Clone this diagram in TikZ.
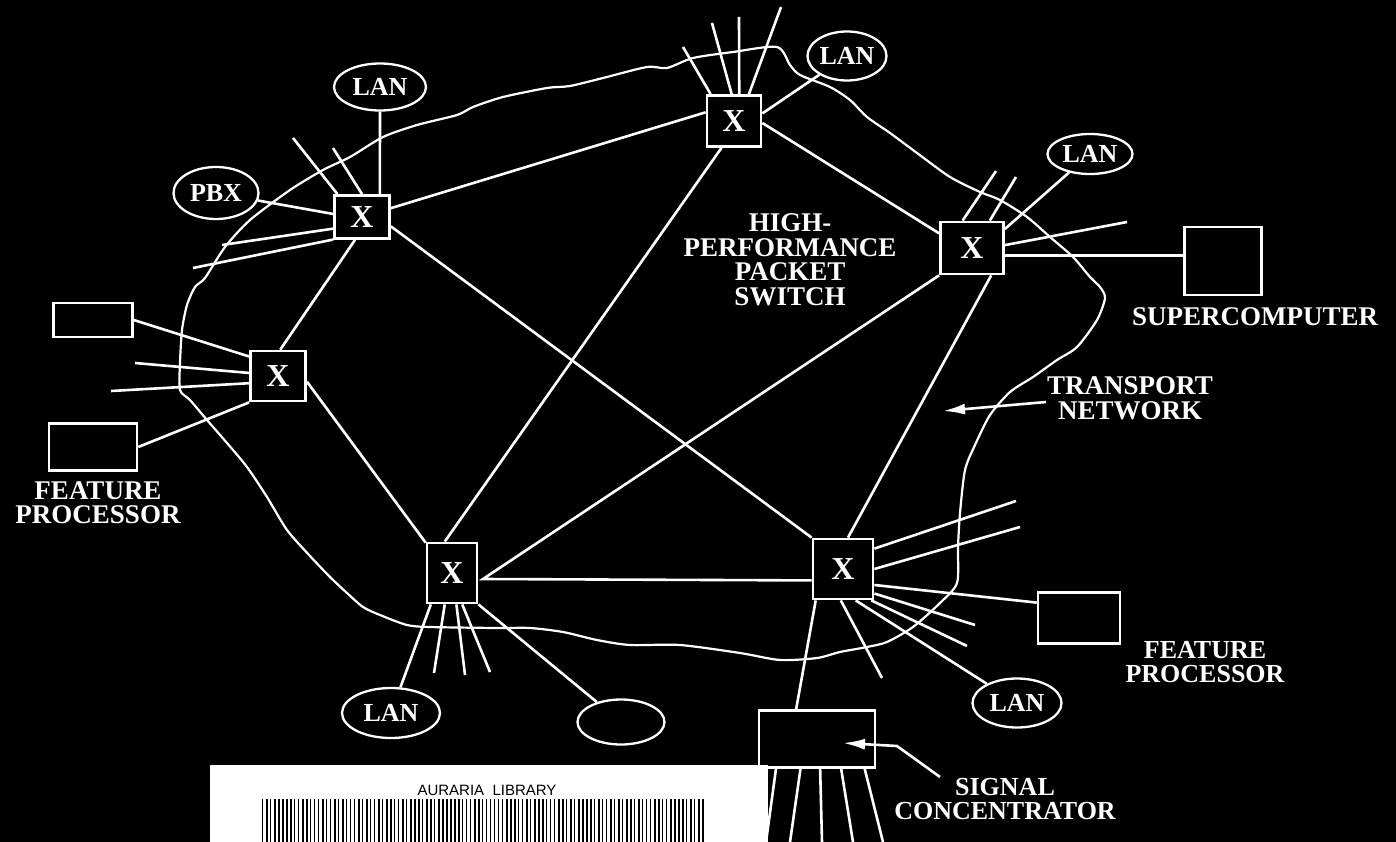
\documentclass[tikz,border=0pt]{standalone}
\usepackage{fontspec}
\setmainfont{Liberation Serif}
\newfontfamily\tagfont{Liberation Sans}
\usetikzlibrary{arrows.meta, shapes.geometric}

\begin{document}
\begin{tikzpicture}[x=1pt, y=-1pt,
  wire/.style={draw=white, line width=2.6pt},
  cloud/.style={draw=white, line width=2.2pt},
  xbox/.style={draw=white, line width=2.8pt, fill=black, text=white, inner sep=0pt,
    font=\fontsize{32}{32}\selectfont\bfseries},
  lan/.style={ellipse, draw=white, line width=2.3pt, fill=black, text=white, inner sep=0pt,
    font=\fontsize{26}{26}\selectfont\bfseries},
  pbox/.style={draw=white, line width=2.6pt, fill=black, inner sep=0pt},
  lbl/.style={text=white, align=center, inner sep=0pt,
    font=\fontsize{27}{24.5}\selectfont\bfseries},
  pointer/.style={wire, -{Latex[length=22pt, width=11pt]}}
]
\useasboundingbox (0,0) rectangle (1396,842);
\fill[black] (0,0) rectangle (1396,842);

% transport network
\draw[cloud] plot[smooth cycle, tension=0.45] coordinates {
  (205,278) (225,247) (250,220) (290,190) (323,170) (350,157) (383,137) (417,125)
  (457,115) (473,107) (503,97) (547,88) (570,86) (603,78) (647,67) (667,68)
  (693,58) (733,52) (777,47) (790,65) (800,75) (830,87) (850,100) (867,117)
  (890,133) (917,153) (950,177) (980,192) (1000,200) (1027,217) (1050,237)
  (1073,257) (1090,277) (1100,287) (1105,298) (1097,320) (1077,347) (1057,360)
  (1033,377) (1010,392) (990,415) (975,445) (965,470) (960,513) (958,547)
  (957,583) (940,603) (913,627) (887,642) (867,647) (840,652) (817,658)
  (780,660) (740,653) (680,645) (630,645) (597,640) (563,632) (530,628)
  (497,628) (430,627) (407,625) (380,615) (363,607) (347,593) (330,577)
  (310,556) (287,530) (267,497) (247,467) (227,443) (207,420) (190,400)
  (180,390) (180,363) (182,330) (187,305) (195,287)};

% packet switches
\node[xbox, minimum width=55pt, minimum height=43pt] (s1) at (362,217) {X};
\node[xbox, minimum width=54pt, minimum height=51pt] (s2) at (734,121) {X};
\node[xbox, minimum width=63pt, minimum height=52pt] (s3) at (972,248) {X};
\node[xbox, minimum width=55pt, minimum height=50pt] (s4) at (278,376) {X};
\node[xbox, minimum width=50pt, minimum height=60pt] (s5) at (452,573) {X};
\node[xbox, minimum width=60pt, minimum height=60pt] (s6) at (843,569) {X};

% attached equipment
\node[lan, minimum width=92pt, minimum height=47pt] (lan1) at (380,87) {LAN};
\node[lan, minimum width=85pt, minimum height=52pt] (pbx) at (216,193) {PBX};
\node[lan, minimum width=79pt, minimum height=49pt] (lan2) at (847,56) {LAN};
\node[lan, minimum width=85pt, minimum height=40pt] (lan3) at (1090,154) {LAN};
\node[lan, minimum width=98pt, minimum height=50pt] (lan4) at (391,713) {LAN};
\node[lan, minimum width=89pt, minimum height=49pt] (lan5) at (1017,703) {LAN};
\node[lan, minimum width=87pt, minimum height=45pt] (oval) at (621,722) {};
\node[pbox, minimum width=79pt, minimum height=34pt] (fp1) at (93,320) {};
\node[pbox, minimum width=88pt, minimum height=47pt] (fp2) at (93,447) {};
\node[pbox, minimum width=77pt, minimum height=68pt] (sc) at (1223,261) {};
\node[pbox, minimum width=82pt, minimum height=51pt] (fp3) at (1079,618) {};
\node[pbox, minimum width=116pt, minimum height=57pt] (conc) at (817,739) {};

% labels
\node[lbl] (hpps) at (790,260) {HIGH-\\PERFORMANCE\\PACKET\\SWITCH};
\node[lbl] (fplbl1) at (98,502.5) {FEATURE\\PROCESSOR};
\node[lbl] (sclbl) at (1255,317) {SUPERCOMPUTER};
\node[lbl] (tnlbl) at (1130,398.5) {TRANSPORT\\NETWORK};
\node[lbl, font=\fontsize{26}{24}\selectfont\bfseries] (fplbl2) at (1205,662) {FEATURE\\PROCESSOR};
\node[lbl, font=\fontsize{26}{24}\selectfont\bfseries] (siglbl) at (1005,799) {SIGNAL\\CONCENTRATOR};

% trunks between switches
\draw[wire] (s1.17) -- (s2.163);
\draw[wire] (s1.253) -- (s4.85);
\draw[wire] (s1.342) -- (s6.135);
\draw[wire] (s2.245) -- (s5.103);
\draw[wire] (s2.356) -- (s3.156);
\draw[wire] (s3.305) -- (s6.81);
\draw[wire] (s4.349) -- (s5.131);
\coordinate (j) at (483,579);
\draw[wire] (s3.south west) -- (j) -- (s6.200);

% access lines
\draw[wire] (lan1) -- (s1.52);
\draw[wire] (pbx) -- (s1.174);
\draw[wire] (lan2) -- (s2.15);
\draw[wire] (lan3) -- (s3.30);
\draw[wire] (s3.347) -- (s3.347 -| sc.west);
\draw[wire] (fp1.east) -- (s4.146);
\draw[wire] (fp2.east) -- (s4.south west);
\draw[wire] (s5.236) -- (lan4);
\draw[wire] (s5.south east) -- (oval);
\draw[wire] (s6.333) -- (fp3.160);
\draw[wire] (s6.292) -- (lan5);
\draw[wire] (s6.229) -- (conc.125);

% loose lines
\foreach \s/\a/\x/\y [count=\i] in {
  s1/137/293/138, s1/90/333/148, s1/202/222/245, s1/218/193/268,
  s2/131/683/47, s2/95/712/23, s2/79/739/17, s2/61/781/7,
  s3/109/996/171, s3/57/1016/177, s3/5/1127/222,
  s4/174/135/363, s4/194/111/391,
  s5/257/434/673, s5/278/465/675, s5/288/490/672,
  s6/33/1016/501, s6/0/1020/527, s6/322/975/625, s6/312/967/646, s6/266/882/678,
  conc/216/766/842, conc/241/790/842, conc/276/822/842, conc/309/853/842, conc/328/883/842}
{
  \coordinate (end\i) at (\x,\y);
  \draw[wire] (\s.\a) -- (end\i);
}

% pointers
\coordinate (tnfrom) at (1046,402);
\coordinate (tntip) at (943,411);
\draw[pointer] (tnfrom) -- (tntip);
\coordinate (sigfrom) at (940,777);
\coordinate (sigbend) at (897,746);
\coordinate (sigtip) at (843,743);
\draw[pointer] (sigfrom) -- (sigbend) -- (sigtip);

% library sticker
\fill[white] (210,765) rectangle (768,842);
\node[text=black, inner sep=0pt, font=\tagfont\fontsize{15}{15}\selectfont] (tag) at (487,790) {AURARIA\ \ LIBRARY};
\pgfmathsetseed{42}
\foreach \i in {0,...,110}
  \fill[black] ({262+4*\i},799) rectangle ++({0.8+1.6*rnd},43);
\end{tikzpicture}
\end{document}
